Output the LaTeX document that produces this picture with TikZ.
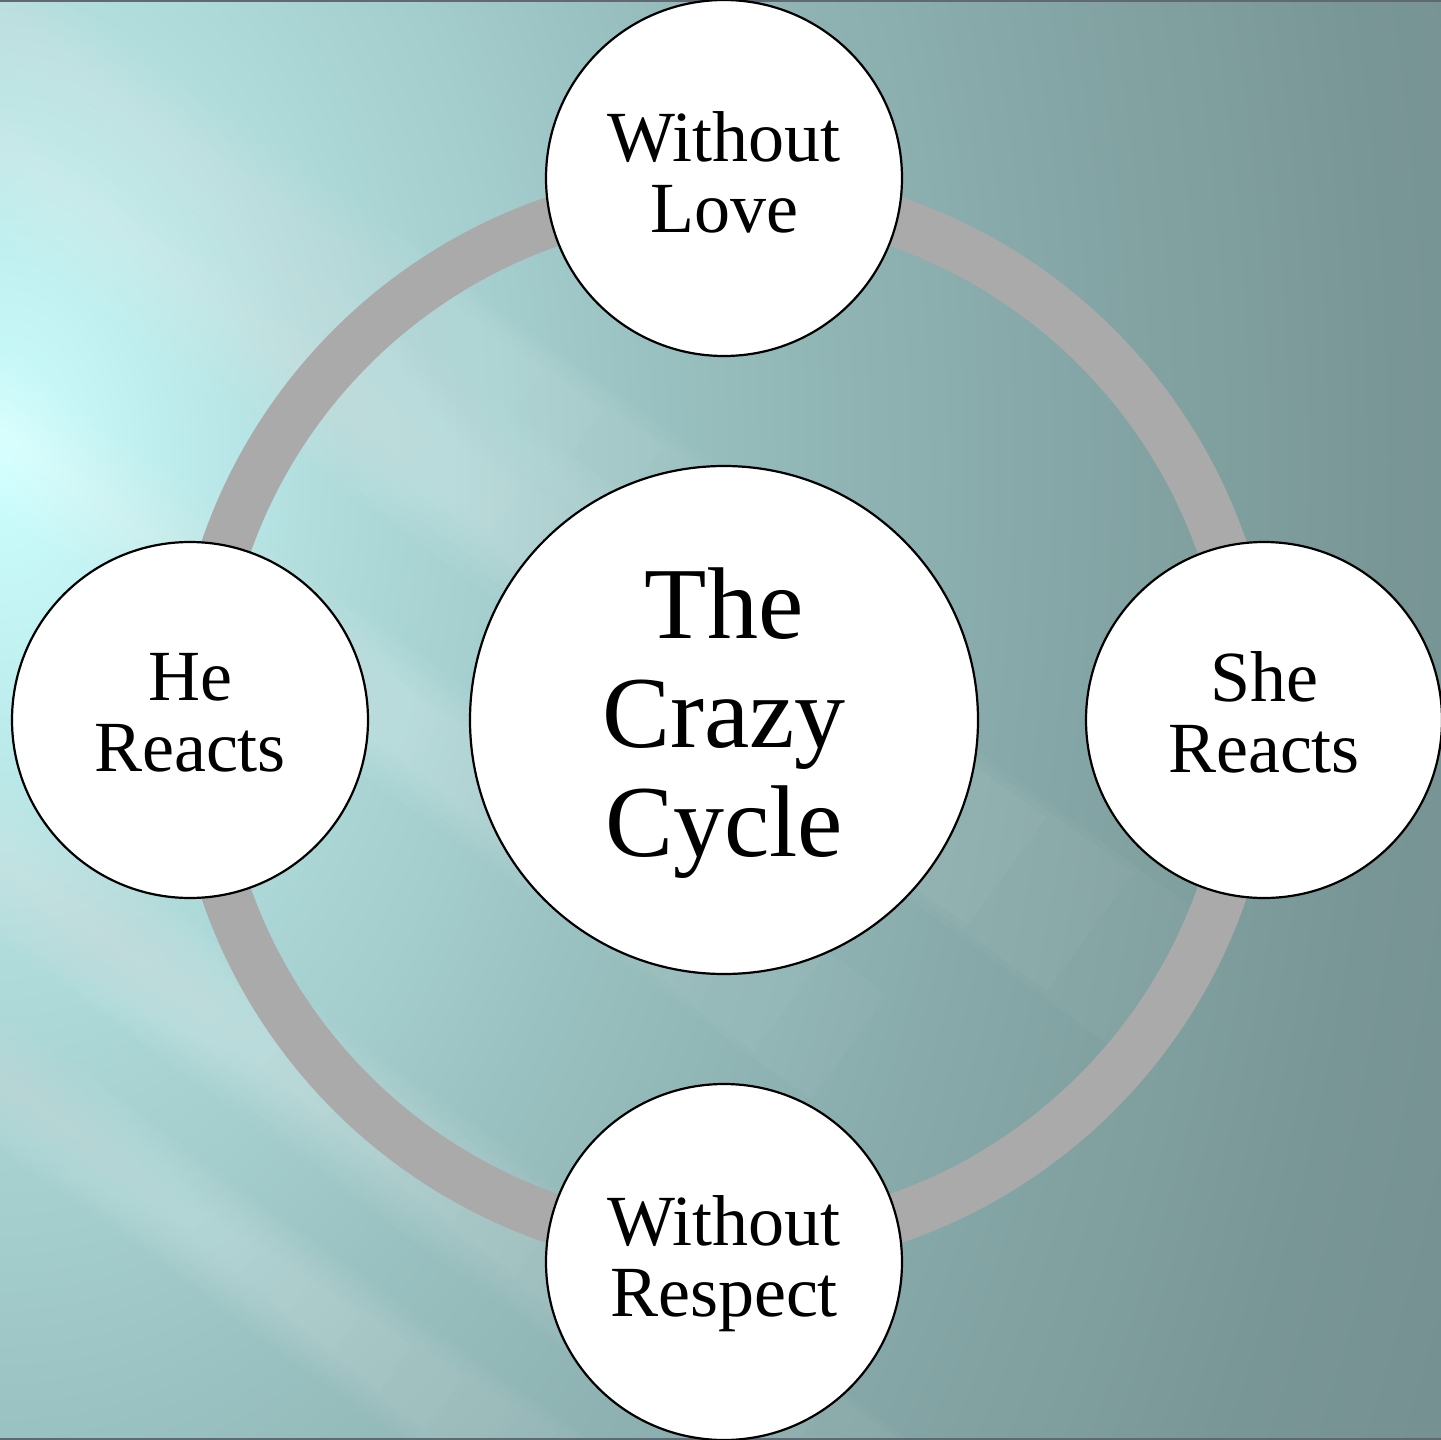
\documentclass[tikz,border=0pt]{standalone}
\usepackage{fontspec}
\setmainfont{Liberation Serif}
\definecolor{ringgray}{RGB}{170,170,170}
\definecolor{framegray}{RGB}{95,105,115}
\pgfdeclareradialshading{bgshade}{\pgfpointorigin}{%
  rgb(0bp)=(0.804,1,1);
  rgb(4.2bp)=(0.698,0.871,0.871);
  rgb(10bp)=(0.588,0.737,0.737);
  rgb(13.9bp)=(0.533,0.667,0.667);
  rgb(19.4bp)=(0.475,0.588,0.588);
  rgb(25bp)=(0.439,0.541,0.541);
  rgb(50bp)=(0.439,0.541,0.541)}
\begin{document}
\begin{tikzpicture}[x=1pt,y=-1pt,
  bubble/.style={circle, draw=black, line width=2.2pt, fill=white, inner sep=0pt, minimum size=356pt},
  hub/.style={bubble, minimum size=508pt},
  smalltxt/.style={align=center, font=\fontsize{72}{71}\selectfont, inner sep=0pt},
  bigtxt/.style={align=center, font=\fontsize{102}{109}\selectfont, inner sep=0pt},
  cycleline/.style={line width=50pt, draw=ringgray},
  framerule/.style={draw=framegray, line width=2pt}]
\useasboundingbox (0,0) rectangle (1441,1440);
% background
\begin{scope}
  \clip (0,0) rectangle (1441,1440);
  \begin{scope}[shift={(0,460)}, yscale=1.5]
    \shade[shading=bgshade] (0,0) circle (1800pt);
  \end{scope}
  \foreach \yo/\L/\w/\a in {140/1450/80/0.028, 20/1000/60/0.024, 430/1050/65/0.028, 860/1150/65/0.026, 1080/850/55/0.022}{
    \begin{scope}[shift={(0,\yo)}, rotate=-36]
      \foreach \k in {1,...,12}{
        \fill[white, opacity=\a] (-300,{-\w*\k/12}) rectangle ({\L*(0.15+0.85*\k/12)},{\w*\k/12});
      }
    \end{scope}
  }
\end{scope}
\draw[framerule] (0,1) -- (1441,1);
\draw[framerule] (0,1439) -- (1441,1439);
% ring
\draw[cycleline] (724,720) circle (527pt);
% circles
\node[hub] (hub) at (724,720) {};
\node[bubble] (top) at (724,178) {};
\node[bubble] (left) at (190,720) {};
\node[bubble] (right) at (1264,720) {};
\node[bubble] (bottom) at (724,1262) {};
% texts
\node[bigtxt] (hubtext) at (724,723.5) {The\\Crazy\\Cycle};
\node[smalltxt] (toptext) at (724,172.5) {Without\\Love};
\node[smalltxt] (lefttext) at (190,712.5) {He\\Reacts};
\node[smalltxt] (righttext) at (1264,712.5) {She\\Reacts};
\node[smalltxt] (bottomtext) at (724,1263.5) {Without\\Respect};
\end{tikzpicture}
\end{document}
